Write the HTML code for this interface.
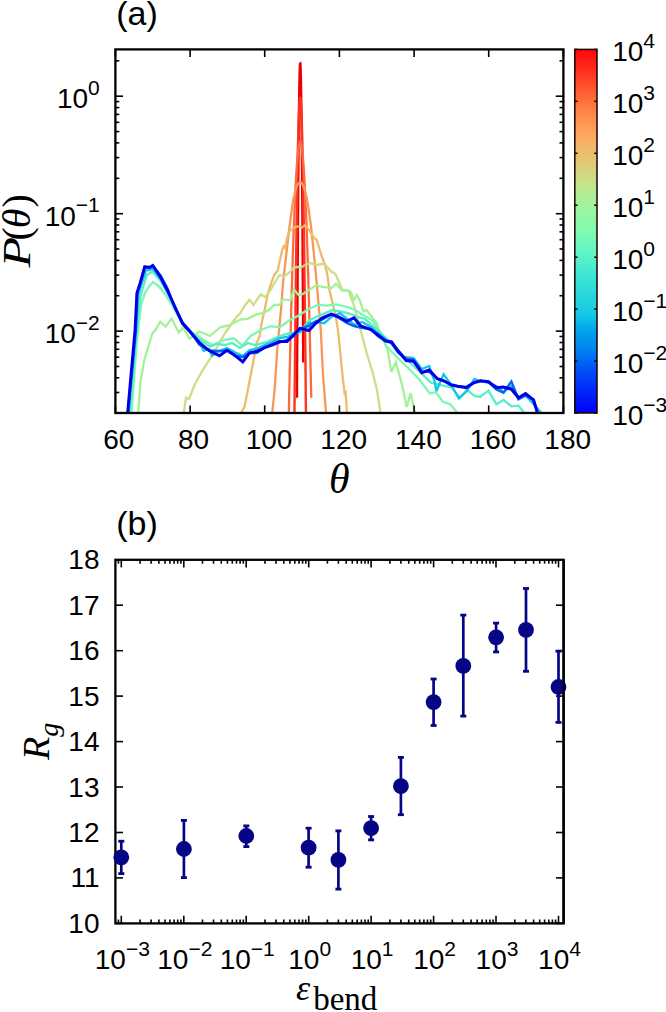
<!DOCTYPE html>
<html><head><meta charset="utf-8"><title>figure</title>
<style>html,body{margin:0;padding:0;background:#fff;overflow:hidden}svg{display:block}</style>
</head><body>
<svg width="666" height="1012" viewBox="0 0 666 1012">
<defs><clipPath id="ca"><rect x="115.4" y="49.4" width="448.0" height="363.6"/></clipPath>
<linearGradient id="cbg" x1="0" y1="1" x2="0" y2="0">
<stop offset="0.000" stop-color="rgb(0,0,245)"/>
<stop offset="0.063" stop-color="rgb(0,40,250)"/>
<stop offset="0.118" stop-color="rgb(0,80,245)"/>
<stop offset="0.173" stop-color="rgb(0,130,240)"/>
<stop offset="0.228" stop-color="rgb(0,165,235)"/>
<stop offset="0.269" stop-color="rgb(20,200,230)"/>
<stop offset="0.324" stop-color="rgb(40,215,220)"/>
<stop offset="0.379" stop-color="rgb(60,230,210)"/>
<stop offset="0.434" stop-color="rgb(90,245,200)"/>
<stop offset="0.503" stop-color="rgb(130,250,175)"/>
<stop offset="0.571" stop-color="rgb(160,245,155)"/>
<stop offset="0.626" stop-color="rgb(195,230,140)"/>
<stop offset="0.681" stop-color="rgb(220,205,120)"/>
<stop offset="0.750" stop-color="rgb(250,175,100)"/>
<stop offset="0.791" stop-color="rgb(255,155,85)"/>
<stop offset="0.832" stop-color="rgb(255,130,70)"/>
<stop offset="0.887" stop-color="rgb(255,90,50)"/>
<stop offset="0.942" stop-color="rgb(255,45,30)"/>
<stop offset="1.000" stop-color="rgb(255,8,8)"/>
</linearGradient></defs>
<rect width="666" height="1012" fill="#fff"/>
<g clip-path="url(#ca)" fill="none" stroke-linejoin="miter" stroke-miterlimit="3">
<polyline points="297.0,397.8 297.0,393.0 297.0,388.3 297.0,383.6 297.1,378.9 297.1,374.3 297.1,369.7 297.1,365.1 297.2,360.6 297.2,356.1 297.2,351.7 297.2,347.2 297.3,342.8 297.3,338.5 297.3,334.2 297.3,329.9 297.3,325.6 297.4,321.4 297.4,317.2 297.4,313.1 297.4,308.9 297.5,304.9 297.5,300.8 297.5,296.8 297.5,292.8 297.6,288.9 297.6,285.0 297.6,281.1 297.6,277.2 297.6,273.4 297.7,269.6 297.7,265.9 297.7,262.2 297.7,258.5 297.8,254.9 297.8,251.3 297.8,247.7 297.8,244.2 297.9,240.7 297.9,237.2 297.9,233.8 297.9,230.4 297.9,227.0 298.0,223.7 298.0,220.4 298.0,217.1 298.0,213.9 298.1,210.7 298.1,207.5 298.1,204.4 298.1,201.3 298.2,198.2 298.2,195.2 298.2,192.2 298.2,189.3 298.2,186.4 298.3,183.5 298.3,180.6 298.3,177.8 298.3,175.0 298.4,172.3 298.4,169.5 298.4,166.9 298.4,164.2 298.4,161.6 298.5,159.0 298.5,156.5 298.5,154.0 298.5,151.5 298.6,149.0 298.6,146.6 298.6,144.2 298.6,141.9 298.7,139.6 298.7,137.3 298.7,135.1 298.7,132.9 298.7,130.7 298.8,128.6 298.8,126.5 298.8,124.4 298.8,122.4 298.9,120.4 298.9,118.4 298.9,116.5 298.9,114.6 299.0,112.7 299.0,110.9 299.0,109.1 299.0,107.3 299.0,105.6 299.1,103.9 299.1,102.3 299.1,100.6 299.1,99.1 299.2,97.5 299.2,96.0 299.2,94.5 299.2,93.0 299.3,91.6 299.3,90.2 299.3,88.9 299.3,87.6 299.3,86.3 299.4,85.0 299.4,83.8 299.4,82.7 299.4,81.5 299.5,80.4 299.5,79.3 299.5,78.3 299.5,77.3 299.6,76.3 299.6,75.4 299.6,74.5 299.6,73.6 299.6,72.7 299.7,71.9 299.7,71.2 299.7,70.4 299.7,69.7 299.8,69.1 299.8,68.4 299.8,67.8 299.8,67.3 299.9,66.7 299.9,66.2 299.9,65.8 299.9,65.4 299.9,65.0 300.0,64.6 300.0,64.3 300.0,64.0 300.0,63.7 300.1,63.5 300.1,63.3 300.1,63.2 300.1,63.1 300.2,63.0 300.2,62.9 300.2,62.9 300.2,62.9 300.2,63.0 300.3,63.0 300.3,63.1 300.3,63.3 300.3,63.5 300.4,63.6 300.4,63.9 300.4,64.1 300.4,64.4 300.4,64.7 300.5,65.1 300.5,65.5 300.5,65.9 300.5,66.3 300.5,66.8 300.6,67.3 300.6,67.9 300.6,68.4 300.6,69.0 300.7,69.6 300.7,70.3 300.7,71.0 300.7,71.7 300.7,72.5 300.8,73.2 300.8,74.0 300.8,74.9 300.8,75.8 300.9,76.7 300.9,77.6 300.9,78.6 300.9,79.5 300.9,80.6 301.0,81.6 301.0,82.7 301.0,83.8 301.0,85.0 301.0,86.1 301.1,87.4 301.1,88.6 301.1,89.9 301.1,91.2 301.2,92.5 301.2,93.9 301.2,95.2 301.2,96.7 301.2,98.1 301.3,99.6 301.3,101.1 301.3,102.7 301.3,104.2 301.4,105.8 301.4,107.5 301.4,109.1 301.4,110.8 301.4,112.6 301.5,114.3 301.5,116.1 301.5,117.9 301.5,119.8 301.6,121.7 301.6,123.6 301.6,125.5 301.6,127.5 301.6,129.5 301.7,131.5 301.7,133.6 301.7,135.7 301.7,137.8 301.7,140.0 301.8,142.1 301.8,144.4 301.8,146.6 301.8,148.9 301.9,151.2 301.9,153.5 301.9,155.9 301.9,158.3 301.9,160.7 302.0,163.2 302.0,165.7 302.0,168.2 302.0,170.8 302.1,173.3 302.1,176.0 302.1,178.6 302.1,181.3 302.1,184.0 302.2,186.7 302.2,189.5 302.2,192.3 302.2,195.1 302.2,198.0 302.3,200.9 302.3,203.8 302.3,206.7 302.3,209.7 302.4,212.7 302.4,215.8 302.4,218.8 302.4,221.9 302.4,225.1 302.5,228.2 302.5,231.4 302.5,234.7 302.5,237.9 302.6,241.2 302.6,244.5 302.6,247.9 302.6,251.2 302.6,254.6 302.7,258.1 302.7,261.6 302.7,265.1 302.7,268.6 302.7,272.1 302.8,275.7 302.8,279.4 302.8,283.0 302.8,286.7 302.9,290.4 302.9,294.2 302.9,297.9 302.9,301.7 302.9,305.6 303.0,309.4 303.0,313.3 303.0,317.3 303.0,321.2 303.1,325.2 303.1,329.2 303.1,333.3 303.1,337.4 303.1,341.5 303.2,345.6 303.2,349.8 303.2,354.0 303.2,358.2 303.2,362.5" stroke="rgb(238,0,0)" stroke-width="2.4"/>
<polyline points="294.3,430.0 294.4,425.3 294.4,420.6 294.4,415.9 294.5,411.3 294.5,406.7 294.6,402.1 294.6,397.6 294.7,393.1 294.7,388.6 294.7,384.2 294.8,379.8 294.8,375.5 294.9,371.2 294.9,366.9 294.9,362.6 295.0,358.4 295.0,354.2 295.1,350.0 295.1,345.9 295.2,341.8 295.2,337.8 295.2,333.8 295.3,329.8 295.3,325.8 295.4,321.9 295.4,318.0 295.5,314.2 295.5,310.4 295.5,306.6 295.6,302.8 295.6,299.1 295.7,295.5 295.7,291.8 295.7,288.2 295.8,284.6 295.8,281.1 295.9,277.6 295.9,274.1 296.0,270.6 296.0,267.2 296.0,263.9 296.1,260.5 296.1,257.2 296.2,253.9 296.2,250.7 296.3,247.5 296.3,244.3 296.3,241.2 296.4,238.1 296.4,235.0 296.5,232.0 296.5,229.0 296.5,226.0 296.6,223.1 296.6,220.2 296.7,217.3 296.7,214.5 296.8,211.7 296.8,208.9 296.8,206.2 296.9,203.5 296.9,200.8 297.0,198.2 297.0,195.6 297.0,193.1 297.1,190.5 297.1,188.0 297.2,185.6 297.2,183.2 297.3,180.8 297.3,178.4 297.3,176.1 297.4,173.8 297.4,171.6 297.5,169.3 297.5,167.1 297.6,165.0 297.6,162.9 297.6,160.8 297.7,158.7 297.7,156.7 297.8,154.7 297.8,152.8 297.8,150.9 297.9,149.0 297.9,147.1 298.0,145.3 298.0,143.5 298.1,141.8 298.1,140.1 298.1,138.4 298.2,136.8 298.2,135.2 298.3,133.6 298.3,132.0 298.4,130.5 298.4,129.0 298.4,127.6 298.5,126.2 298.5,124.8 298.6,123.5 298.6,122.2 298.6,120.9 298.7,119.7 298.7,118.5 298.8,117.3 298.8,116.2 298.9,115.1 298.9,114.0 298.9,113.0 299.0,112.0 299.0,111.0 299.1,110.1 299.1,109.2 299.1,108.3 299.2,107.5 299.2,106.7 299.3,105.9 299.3,105.2 299.4,104.5 299.4,103.8 299.4,103.2 299.5,102.6 299.5,102.0 299.6,101.5 299.6,101.0 299.7,100.6 299.7,100.1 299.7,99.8 299.8,99.4 299.8,99.1 299.9,98.8 299.9,98.5 299.9,98.3 300.0,98.1 300.0,98.0 300.1,97.9 300.1,97.8 300.2,97.7 300.2,97.7 300.2,97.7 300.3,97.8 300.3,97.9 300.4,98.0 300.4,98.1 300.5,98.3 300.5,98.5 300.5,98.8 300.6,99.1 300.6,99.4 300.7,99.8 300.7,100.1 300.7,100.6 300.8,101.0 300.8,101.5 300.9,102.0 300.9,102.6 301.0,103.2 301.0,103.8 301.0,104.5 301.1,105.2 301.1,105.9 301.2,106.7 301.2,107.5 301.3,108.3 301.3,109.2 301.3,110.1 301.4,111.0 301.4,112.0 301.5,113.0 301.5,114.0 301.5,115.1 301.6,116.2 301.6,117.3 301.7,118.5 301.7,119.7 301.8,120.9 301.8,122.2 301.8,123.5 301.9,124.8 301.9,126.2 302.0,127.6 302.0,129.0 302.0,130.5 302.1,132.0 302.1,133.6 302.2,135.2 302.2,136.8 302.3,138.4 302.3,140.1 302.3,141.8 302.4,143.5 302.4,145.3 302.5,147.1 302.5,149.0 302.6,150.9 302.6,152.8 302.6,154.7 302.7,156.7 302.7,158.7 302.8,160.8 302.8,162.9 302.8,165.0 302.9,167.1 302.9,169.3 303.0,171.6 303.0,173.8 303.1,176.1 303.1,178.4 303.1,180.8 303.2,183.2 303.2,185.6 303.3,188.0 303.3,190.5 303.4,193.1 303.4,195.6 303.4,198.2 303.5,200.8 303.5,203.5 303.6,206.2 303.6,208.9 303.6,211.7 303.7,214.5 303.7,217.3 303.8,220.2 303.8,223.1 303.9,226.0 303.9,229.0 303.9,232.0 304.0,235.0 304.0,238.1 304.1,241.2 304.1,244.3 304.1,247.5 304.2,250.7 304.2,253.9 304.3,257.2 304.3,260.5 304.4,263.9 304.4,267.2 304.4,270.6 304.5,274.1 304.5,277.6 304.6,281.1 304.6,284.6 304.7,288.2 304.7,291.8 304.7,295.5 304.8,299.1 304.8,302.8 304.9,306.6 304.9,310.4 304.9,314.2 305.0,318.0 305.0,321.9 305.1,325.8 305.1,329.8 305.2,333.8 305.2,337.8 305.2,341.8 305.3,345.9 305.3,350.0 305.4,354.2 305.4,358.4 305.5,362.6 305.5,366.9 305.5,371.2 305.6,375.5 305.6,379.8 305.7,384.2 305.7,388.6 305.7,393.1 305.8,397.6 305.8,402.1 305.9,406.7 305.9,411.3 306.0,415.9 306.0,420.6 306.0,425.3 306.1,430.0" stroke="rgb(255,52,32)" stroke-width="2.4"/>
<polyline points="288.5,430.0 288.6,425.9 288.6,421.8 288.7,417.8 288.8,413.8 288.9,409.8 289.0,405.8 289.1,401.9 289.1,398.0 289.2,394.1 289.3,390.3 289.4,386.5 289.5,382.7 289.6,379.0 289.6,375.3 289.7,371.6 289.8,367.9 289.9,364.3 290.0,360.7 290.1,357.1 290.1,353.6 290.2,350.1 290.3,346.6 290.4,343.1 290.5,339.7 290.6,336.3 290.7,332.9 290.7,329.6 290.8,326.3 290.9,323.0 291.0,319.8 291.1,316.5 291.2,313.3 291.2,310.2 291.3,307.1 291.4,304.0 291.5,300.9 291.6,297.8 291.7,294.8 291.7,291.8 291.8,288.9 291.9,286.0 292.0,283.1 292.1,280.2 292.2,277.4 292.2,274.6 292.3,271.8 292.4,269.0 292.5,266.3 292.6,263.6 292.7,261.0 292.7,258.3 292.8,255.7 292.9,253.2 293.0,250.6 293.1,248.1 293.2,245.6 293.2,243.2 293.3,240.7 293.4,238.3 293.5,236.0 293.6,233.6 293.7,231.3 293.8,229.1 293.8,226.8 293.9,224.6 294.0,222.4 294.1,220.2 294.2,218.1 294.3,216.0 294.3,213.9 294.4,211.9 294.5,209.9 294.6,207.9 294.7,205.9 294.8,204.0 294.8,202.1 294.9,200.2 295.0,198.4 295.1,196.6 295.2,194.8 295.3,193.1 295.3,191.3 295.4,189.7 295.5,188.0 295.6,186.4 295.7,184.8 295.8,183.2 295.8,181.6 295.9,180.1 296.0,178.6 296.1,177.2 296.2,175.8 296.3,174.4 296.3,173.0 296.4,171.7 296.5,170.4 296.6,169.1 296.7,167.8 296.8,166.6 296.8,165.4 296.9,164.3 297.0,163.1 297.1,162.0 297.2,160.9 297.3,159.9 297.4,158.9 297.4,157.9 297.5,157.0 297.6,156.0 297.7,155.1 297.8,154.3 297.9,153.4 297.9,152.6 298.0,151.8 298.1,151.1 298.2,150.4 298.3,149.7 298.4,149.0 298.4,148.4 298.5,147.8 298.6,147.2 298.7,146.7 298.8,146.1 298.9,145.7 298.9,145.2 299.0,144.8 299.1,144.4 299.2,144.0 299.3,143.7 299.4,143.4 299.4,143.1 299.5,142.8 299.6,142.6 299.7,142.4 299.8,142.3 299.9,142.1 299.9,142.0 300.0,142.0 300.1,141.9 300.2,141.9 300.3,141.9 300.4,142.0 300.4,142.0 300.5,142.1 300.6,142.2 300.7,142.4 300.8,142.5 300.8,142.7 300.9,143.0 301.0,143.2 301.1,143.5 301.1,143.8 301.2,144.1 301.3,144.5 301.4,144.8 301.5,145.2 301.5,145.7 301.6,146.1 301.7,146.6 301.8,147.1 301.9,147.7 301.9,148.2 302.0,148.8 302.1,149.4 302.2,150.1 302.3,150.7 302.3,151.4 302.4,152.1 302.5,152.9 302.6,153.7 302.6,154.4 302.7,155.3 302.8,156.1 302.9,157.0 303.0,157.9 303.0,158.8 303.1,159.8 303.2,160.8 303.3,161.8 303.4,162.8 303.4,163.8 303.5,164.9 303.6,166.0 303.7,167.2 303.8,168.3 303.8,169.5 303.9,170.7 304.0,172.0 304.1,173.2 304.1,174.5 304.2,175.9 304.3,177.2 304.4,178.6 304.5,180.0 304.5,181.4 304.6,182.8 304.7,184.3 304.8,185.8 304.9,187.3 304.9,188.9 305.0,190.5 305.1,192.1 305.2,193.7 305.3,195.4 305.3,197.1 305.4,198.8 305.5,200.5 305.6,202.3 305.6,204.1 305.7,205.9 305.8,207.7 305.9,209.6 306.0,211.5 306.0,213.4 306.1,215.3 306.2,217.3 306.3,219.3 306.4,221.3 306.4,223.4 306.5,225.5 306.6,227.6 306.7,229.7 306.8,231.8 306.8,234.0 306.9,236.2 307.0,238.5 307.1,240.7 307.1,243.0 307.2,245.3 307.3,247.7 307.4,250.0 307.5,252.4 307.5,254.8 307.6,257.3 307.7,259.7 307.8,262.2 307.9,264.7 307.9,267.3 308.0,269.9 308.1,272.5 308.2,275.1 308.3,277.7 308.3,280.4 308.4,283.1 308.5,285.8 308.6,288.6 308.6,291.4 308.7,294.2 308.8,297.0 308.9,299.9 309.0,302.8 309.0,305.7 309.1,308.6 309.2,311.6 309.3,314.6 309.4,317.6 309.4,320.6 309.5,323.7 309.6,326.8 309.7,329.9 309.8,333.1 309.8,336.2 309.9,339.4 310.0,342.7 310.1,345.9 310.1,349.2 310.2,352.5 310.3,355.8 310.4,359.2 310.5,362.5 310.5,366.0 310.6,369.4 310.7,372.8 310.8,376.3 310.9,379.8 310.9,383.4 311.0,387.0 311.1,390.5 311.2,394.2 311.3,397.8" stroke="rgb(250,108,62)" stroke-width="2.3"/>
<polyline points="272.0,421.0 272.3,412.0 274.6,390.0 277.6,345.0 281.0,310.0 283.2,280.5 286.0,257.0 289.1,230.0 292.2,206.3 292.4,204.8 292.7,203.3 292.9,202.0 293.2,200.6 293.4,199.3 293.7,198.1 293.9,196.9 294.2,195.7 294.4,194.6 294.7,193.6 294.9,192.6 295.2,191.6 295.4,190.7 295.7,189.8 295.9,189.0 296.2,188.2 296.4,187.5 296.7,186.8 296.9,186.2 297.2,185.6 297.4,185.0 297.7,184.5 297.9,184.1 298.2,183.7 298.4,183.4 298.7,183.0 298.9,182.8 299.2,182.6 299.4,182.4 299.7,182.3 299.9,182.2 300.2,182.2 300.4,182.2 300.7,182.3 300.9,182.4 301.2,182.6 301.4,182.8 301.7,183.0 301.9,183.4 302.2,183.7 302.4,184.1 302.7,184.5 302.9,185.0 303.2,185.6 303.4,186.2 303.7,186.8 303.9,187.5 304.2,188.2 304.4,189.0 304.7,189.8 304.9,190.7 305.2,191.6 305.4,192.6 305.7,193.6 305.9,194.6 306.2,195.7 306.4,196.9 306.7,198.1 306.9,199.3 307.2,200.6 307.4,202.0 307.7,203.3 307.9,204.8 308.2,206.3 311.2,228.0 314.0,255.0 316.6,282.0 320.8,330.0 323.0,375.0 326.0,412.0 326.6,421.0" stroke="rgb(248,152,88)" stroke-width="2.3"/>
<polyline points="240.8,421.0 241.6,412.0 244.6,406.6 249.0,384.0 253.6,360.0 256.6,343.5 259.6,336.0 261.8,322.5 264.8,309.0 268.0,293.0 271.5,282.3 274.2,275.0 277.8,270.5 279.6,261.5 282.3,249.8 284.1,245.3 285.0,249.0 286.8,239.0 289.1,231.8 292.0,229.0 295.0,227.0 299.5,226.2 302.0,227.3 304.5,225.4 308.5,229.0 313.9,237.9 316.6,239.7 319.3,248.7 322.0,256.8 324.7,264.0 327.0,273.0 329.5,290.0 333.0,305.0 336.0,318.0 338.0,330.0 341.0,360.0 343.0,380.0 344.6,393.0 345.6,392.0 347.0,413.0 347.5,421.0" stroke="rgb(236,188,108)" stroke-width="2.3"/>
<polyline points="183.0,421.0 183.8,413.0 186.0,397.6 189.0,399.0 195.0,384.0 202.5,370.6 210.0,358.6 217.5,346.5 225.0,333.0 232.5,322.5 235.6,318.0 240.0,313.5 244.6,306.0 249.5,299.8 253.5,304.8 260.7,294.4 265.2,297.1 270.6,289.9 276.0,280.5 279.6,275.0 284.1,276.4 288.6,273.2 294.0,267.4 297.7,267.0 300.4,267.7 305.0,265.0 310.3,263.2 316.6,265.0 322.0,264.0 325.6,265.0 331.0,271.3 335.5,274.0 338.2,280.3 342.2,289.6 348.5,290.8 354.5,307.0 360.5,330.0 366.5,352.5 372.5,372.0 377.0,390.0 380.0,409.6 381.0,421.0" stroke="rgb(205,222,135)" stroke-width="2.3"/>
<polyline points="137.5,421.0 138.3,413.0 140.3,382.7 144.3,360.0 152.3,333.3 155.0,330.7 160.2,321.7 165.6,326.5 171.6,318.6 178.8,332.5 183.0,327.7 189.6,338.5 199.5,331.5 210.0,336.0 220.5,327.0 229.5,325.5 240.0,319.5 247.6,318.8 256.6,314.3 264.0,312.8 269.7,309.3 274.2,304.8 279.6,304.8 283.2,299.4 290.5,300.3 294.0,289.5 298.6,294.9 303.0,294.0 309.0,290.0 316.2,285.4 322.5,286.8 331.5,288.1 336.0,283.6 342.3,290.8 346.8,290.4 350.5,291.7 354.0,299.8 356.8,295.3 360.0,300.7 363.5,311.6 366.5,310.0 377.0,323.6 380.0,335.0 384.6,343.0 387.6,349.5 391.3,372.0 395.8,362.3 402.4,386.0 406.6,407.0 410.7,393.2 414.7,412.0 415.5,421.0" stroke="rgb(162,242,152)" stroke-width="2.3"/>
<polyline points="130.5,421.0 131.5,413.0 137.0,340.0 141.0,305.0 145.0,292.8 148.0,288.0 152.8,282.0 158.8,286.2 165.0,294.0 172.0,305.0 180.0,320.0 188.0,330.0 198.0,336.0 205.0,341.0 213.0,345.0 222.0,340.5 234.0,338.3 242.3,345.8 250.6,336.0 261.0,330.0 270.0,326.3 280.0,327.0 290.0,320.0 300.0,314.7 309.0,308.8 318.0,304.8 327.0,305.7 336.0,304.3 343.2,306.1 350.5,307.9 357.7,311.5 362.0,314.6 372.6,320.6 381.6,334.0 386.0,346.0 395.0,355.0 407.0,367.0 419.0,379.0 429.8,393.4 435.8,392.2 443.0,401.8 450.3,404.2 456.3,411.5 457.5,421.0" stroke="rgb(128,246,180)" stroke-width="2.3"/>
<polyline points="128.5,421.0 129.7,413.0 136.5,333.0 140.5,296.0 146.8,275.1 152.5,271.5 160.6,281.0 167.5,293.0 175.0,308.0 182.6,322.5 190.0,331.0 200.0,340.0 210.0,346.5 217.0,344.0 225.0,345.0 232.0,343.0 240.0,348.0 248.0,343.0 255.0,345.0 267.0,342.0 273.0,339.0 280.0,336.0 290.0,333.0 300.0,332.3 309.0,320.5 318.0,316.0 327.0,312.4 332.4,310.2 340.5,311.5 348.6,313.3 357.7,316.9 365.0,319.0 375.6,328.0 384.6,337.0 395.0,347.0 407.0,360.0 419.0,371.0 431.0,382.6 443.0,385.6 451.5,387.4 460.0,398.2 467.0,389.8 474.3,395.8 480.0,397.0 488.5,390.6 496.4,404.2 503.5,400.0 511.4,406.3 518.5,405.6 524.2,413.0 525.0,421.0" stroke="rgb(88,238,200)" stroke-width="2.3"/>
<polyline points="127.5,421.0 128.7,413.0 136.2,330.0 138.5,294.0 141.5,284.0 146.0,270.5 150.0,270.0 152.8,268.5 160.6,279.0 167.5,292.0 175.0,307.5 182.6,323.0 190.0,331.0 199.0,341.0 203.6,350.9 209.0,349.0 212.0,355.7 219.5,351.0 227.0,348.0 234.5,352.0 242.8,356.0 249.5,350.0 257.0,348.5 264.6,345.0 272.0,342.0 279.6,338.0 287.0,337.0 293.0,334.0 300.0,332.0 309.0,323.2 318.0,322.3 324.3,323.2 331.5,317.0 340.0,313.0 346.0,318.0 354.5,325.0 362.0,322.0 371.0,327.0 378.0,333.0 385.6,339.0 392.0,343.0 398.1,350.0 404.0,357.0 413.6,358.0 421.8,369.0 429.2,366.0 434.6,381.4 436.4,391.0 443.6,374.2 450.8,384.0 458.7,398.2 467.0,391.0 474.3,379.0 480.0,381.0 488.5,383.0 496.4,386.0 503.5,392.0 511.4,386.0 518.5,398.0 526.0,396.0 533.5,404.0 541.3,413.0 542.0,421.0" stroke="rgb(20,196,228)" stroke-width="2.3"/>
<polyline points="126.5,421.0 127.7,413.0 135.8,330.7 137.0,292.3 140.3,282.9 144.7,266.5 149.8,267.7 152.8,266.0 160.6,275.5 167.5,288.6 175.0,308.3 182.6,322.6 190.0,330.7 199.0,344.3 209.0,350.5 219.5,351.0 227.0,350.2 234.5,355.6 242.8,357.0 249.5,353.3 257.0,352.8 264.6,347.7 272.0,345.6 279.6,342.3 287.0,339.9 293.0,336.5 300.0,328.7 309.0,326.0 316.0,321.1 322.5,319.3 331.5,314.1 339.0,317.9 346.8,322.9 354.0,326.0 360.5,327.5 371.0,329.2 378.0,336.2 385.6,340.8 391.6,343.5 398.1,352.6 406.2,358.9 413.6,359.7 421.8,371.6 429.2,371.9 437.3,378.5 444.0,381.3 450.8,384.1 457.6,386.2 466.4,387.1 473.8,382.2 480.7,381.0 488.5,382.0 496.4,389.4 503.5,392.8 511.4,381.4 518.5,399.2 525.6,395.5 533.5,399.9 537.0,411.3 537.6,421.0" stroke="rgb(0,105,240)" stroke-width="2.4"/>
<polyline points="126.5,421.0 127.7,413.0 135.0,330.7 137.0,293.3 140.3,282.7 144.7,267.0 149.8,267.3 152.8,265.5 160.6,277.2 167.5,290.5 175.0,307.0 182.6,323.6 190.0,331.8 199.0,342.3 209.0,350.6 219.5,355.8 227.0,350.3 234.5,355.0 242.8,361.8 249.5,352.8 257.0,351.3 264.6,347.6 272.0,344.6 279.6,341.6 287.0,341.6 293.0,335.5 300.0,328.3 309.0,330.5 316.0,323.0 322.5,317.8 331.5,314.2 339.0,317.0 346.8,321.4 354.0,317.8 360.5,325.8 371.0,329.6 378.0,335.0 385.6,341.0 391.6,341.8 398.1,351.1 406.2,360.5 413.6,361.2 421.8,372.7 429.2,370.0 437.3,378.8 444.0,380.8 450.8,384.9 457.6,386.2 466.4,387.6 473.8,382.8 480.7,380.7 488.5,381.7 496.4,387.8 503.5,387.1 511.4,389.2 518.5,397.8 525.6,393.5 533.5,399.9 537.0,411.3 537.6,421.0" stroke="rgb(0,0,232)" stroke-width="3.0"/>
</g>
<line x1="115.4" y1="413.0" x2="115.4" y2="405.4" stroke="#000" stroke-width="1.6"/>
<line x1="115.4" y1="49.4" x2="115.4" y2="57.0" stroke="#000" stroke-width="1.6"/>
<line x1="190.1" y1="413.0" x2="190.1" y2="405.4" stroke="#000" stroke-width="1.6"/>
<line x1="190.1" y1="49.4" x2="190.1" y2="57.0" stroke="#000" stroke-width="1.6"/>
<line x1="264.7" y1="413.0" x2="264.7" y2="405.4" stroke="#000" stroke-width="1.6"/>
<line x1="264.7" y1="49.4" x2="264.7" y2="57.0" stroke="#000" stroke-width="1.6"/>
<line x1="339.4" y1="413.0" x2="339.4" y2="405.4" stroke="#000" stroke-width="1.6"/>
<line x1="339.4" y1="49.4" x2="339.4" y2="57.0" stroke="#000" stroke-width="1.6"/>
<line x1="414.1" y1="413.0" x2="414.1" y2="405.4" stroke="#000" stroke-width="1.6"/>
<line x1="414.1" y1="49.4" x2="414.1" y2="57.0" stroke="#000" stroke-width="1.6"/>
<line x1="488.7" y1="413.0" x2="488.7" y2="405.4" stroke="#000" stroke-width="1.6"/>
<line x1="488.7" y1="49.4" x2="488.7" y2="57.0" stroke="#000" stroke-width="1.6"/>
<line x1="563.4" y1="413.0" x2="563.4" y2="405.4" stroke="#000" stroke-width="1.6"/>
<line x1="563.4" y1="49.4" x2="563.4" y2="57.0" stroke="#000" stroke-width="1.6"/>
<line x1="115.4" y1="413.2" x2="119.3" y2="413.2" stroke="#000" stroke-width="1.6"/>
<line x1="563.4" y1="413.2" x2="559.5" y2="413.2" stroke="#000" stroke-width="1.6"/>
<line x1="115.4" y1="392.5" x2="119.3" y2="392.5" stroke="#000" stroke-width="1.6"/>
<line x1="563.4" y1="392.5" x2="559.5" y2="392.5" stroke="#000" stroke-width="1.6"/>
<line x1="115.4" y1="377.8" x2="119.3" y2="377.8" stroke="#000" stroke-width="1.6"/>
<line x1="563.4" y1="377.8" x2="559.5" y2="377.8" stroke="#000" stroke-width="1.6"/>
<line x1="115.4" y1="366.5" x2="119.3" y2="366.5" stroke="#000" stroke-width="1.6"/>
<line x1="563.4" y1="366.5" x2="559.5" y2="366.5" stroke="#000" stroke-width="1.6"/>
<line x1="115.4" y1="357.2" x2="119.3" y2="357.2" stroke="#000" stroke-width="1.6"/>
<line x1="563.4" y1="357.2" x2="559.5" y2="357.2" stroke="#000" stroke-width="1.6"/>
<line x1="115.4" y1="349.3" x2="119.3" y2="349.3" stroke="#000" stroke-width="1.6"/>
<line x1="563.4" y1="349.3" x2="559.5" y2="349.3" stroke="#000" stroke-width="1.6"/>
<line x1="115.4" y1="342.5" x2="119.3" y2="342.5" stroke="#000" stroke-width="1.6"/>
<line x1="563.4" y1="342.5" x2="559.5" y2="342.5" stroke="#000" stroke-width="1.6"/>
<line x1="115.4" y1="336.5" x2="119.3" y2="336.5" stroke="#000" stroke-width="1.6"/>
<line x1="563.4" y1="336.5" x2="559.5" y2="336.5" stroke="#000" stroke-width="1.6"/>
<line x1="115.4" y1="331.1" x2="123.0" y2="331.1" stroke="#000" stroke-width="1.6"/>
<line x1="563.4" y1="331.1" x2="555.8" y2="331.1" stroke="#000" stroke-width="1.6"/>
<line x1="115.4" y1="295.7" x2="119.3" y2="295.7" stroke="#000" stroke-width="1.6"/>
<line x1="563.4" y1="295.7" x2="559.5" y2="295.7" stroke="#000" stroke-width="1.6"/>
<line x1="115.4" y1="275.1" x2="119.3" y2="275.1" stroke="#000" stroke-width="1.6"/>
<line x1="563.4" y1="275.1" x2="559.5" y2="275.1" stroke="#000" stroke-width="1.6"/>
<line x1="115.4" y1="260.4" x2="119.3" y2="260.4" stroke="#000" stroke-width="1.6"/>
<line x1="563.4" y1="260.4" x2="559.5" y2="260.4" stroke="#000" stroke-width="1.6"/>
<line x1="115.4" y1="249.0" x2="119.3" y2="249.0" stroke="#000" stroke-width="1.6"/>
<line x1="563.4" y1="249.0" x2="559.5" y2="249.0" stroke="#000" stroke-width="1.6"/>
<line x1="115.4" y1="239.7" x2="119.3" y2="239.7" stroke="#000" stroke-width="1.6"/>
<line x1="563.4" y1="239.7" x2="559.5" y2="239.7" stroke="#000" stroke-width="1.6"/>
<line x1="115.4" y1="231.8" x2="119.3" y2="231.8" stroke="#000" stroke-width="1.6"/>
<line x1="563.4" y1="231.8" x2="559.5" y2="231.8" stroke="#000" stroke-width="1.6"/>
<line x1="115.4" y1="225.0" x2="119.3" y2="225.0" stroke="#000" stroke-width="1.6"/>
<line x1="563.4" y1="225.0" x2="559.5" y2="225.0" stroke="#000" stroke-width="1.6"/>
<line x1="115.4" y1="219.0" x2="119.3" y2="219.0" stroke="#000" stroke-width="1.6"/>
<line x1="563.4" y1="219.0" x2="559.5" y2="219.0" stroke="#000" stroke-width="1.6"/>
<line x1="115.4" y1="213.7" x2="123.0" y2="213.7" stroke="#000" stroke-width="1.6"/>
<line x1="563.4" y1="213.7" x2="555.8" y2="213.7" stroke="#000" stroke-width="1.6"/>
<line x1="115.4" y1="178.3" x2="119.3" y2="178.3" stroke="#000" stroke-width="1.6"/>
<line x1="563.4" y1="178.3" x2="559.5" y2="178.3" stroke="#000" stroke-width="1.6"/>
<line x1="115.4" y1="157.6" x2="119.3" y2="157.6" stroke="#000" stroke-width="1.6"/>
<line x1="563.4" y1="157.6" x2="559.5" y2="157.6" stroke="#000" stroke-width="1.6"/>
<line x1="115.4" y1="142.9" x2="119.3" y2="142.9" stroke="#000" stroke-width="1.6"/>
<line x1="563.4" y1="142.9" x2="559.5" y2="142.9" stroke="#000" stroke-width="1.6"/>
<line x1="115.4" y1="131.6" x2="119.3" y2="131.6" stroke="#000" stroke-width="1.6"/>
<line x1="563.4" y1="131.6" x2="559.5" y2="131.6" stroke="#000" stroke-width="1.6"/>
<line x1="115.4" y1="122.3" x2="119.3" y2="122.3" stroke="#000" stroke-width="1.6"/>
<line x1="563.4" y1="122.3" x2="559.5" y2="122.3" stroke="#000" stroke-width="1.6"/>
<line x1="115.4" y1="114.4" x2="119.3" y2="114.4" stroke="#000" stroke-width="1.6"/>
<line x1="563.4" y1="114.4" x2="559.5" y2="114.4" stroke="#000" stroke-width="1.6"/>
<line x1="115.4" y1="107.6" x2="119.3" y2="107.6" stroke="#000" stroke-width="1.6"/>
<line x1="563.4" y1="107.6" x2="559.5" y2="107.6" stroke="#000" stroke-width="1.6"/>
<line x1="115.4" y1="101.6" x2="119.3" y2="101.6" stroke="#000" stroke-width="1.6"/>
<line x1="563.4" y1="101.6" x2="559.5" y2="101.6" stroke="#000" stroke-width="1.6"/>
<line x1="115.4" y1="96.2" x2="123.0" y2="96.2" stroke="#000" stroke-width="1.6"/>
<line x1="563.4" y1="96.2" x2="555.8" y2="96.2" stroke="#000" stroke-width="1.6"/>
<line x1="115.4" y1="60.8" x2="119.3" y2="60.8" stroke="#000" stroke-width="1.6"/>
<line x1="563.4" y1="60.8" x2="559.5" y2="60.8" stroke="#000" stroke-width="1.6"/>
<rect x="115.4" y="49.4" width="448.0" height="363.6" fill="none" stroke="#000" stroke-width="2.3"/>
<rect x="574.8" y="49.4" width="22.2" height="363.6" fill="url(#cbg)" stroke="#1a0000" stroke-width="1.5"/>
<line x1="574.8" y1="413.0" x2="577.6" y2="413.0" stroke="#200" stroke-width="1.5"/>
<line x1="597.0" y1="413.0" x2="594.2" y2="413.0" stroke="#200" stroke-width="1.5"/>
<text x="612.2" y="424.9" font-family="Liberation Sans" font-size="28" text-anchor="start">10<tspan font-size="21" dy="-13.4">−3</tspan></text>
<line x1="574.8" y1="361.1" x2="577.6" y2="361.1" stroke="#200" stroke-width="1.5"/>
<line x1="597.0" y1="361.1" x2="594.2" y2="361.1" stroke="#200" stroke-width="1.5"/>
<text x="612.2" y="373.0" font-family="Liberation Sans" font-size="28" text-anchor="start">10<tspan font-size="21" dy="-13.4">−2</tspan></text>
<line x1="574.8" y1="309.1" x2="577.6" y2="309.1" stroke="#200" stroke-width="1.5"/>
<line x1="597.0" y1="309.1" x2="594.2" y2="309.1" stroke="#200" stroke-width="1.5"/>
<text x="612.2" y="321.0" font-family="Liberation Sans" font-size="28" text-anchor="start">10<tspan font-size="21" dy="-13.4">−1</tspan></text>
<line x1="574.8" y1="257.2" x2="577.6" y2="257.2" stroke="#200" stroke-width="1.5"/>
<line x1="597.0" y1="257.2" x2="594.2" y2="257.2" stroke="#200" stroke-width="1.5"/>
<text x="612.2" y="269.1" font-family="Liberation Sans" font-size="28" text-anchor="start">10<tspan font-size="21" dy="-13.4">0</tspan></text>
<line x1="574.8" y1="205.2" x2="577.6" y2="205.2" stroke="#200" stroke-width="1.5"/>
<line x1="597.0" y1="205.2" x2="594.2" y2="205.2" stroke="#200" stroke-width="1.5"/>
<text x="612.2" y="217.1" font-family="Liberation Sans" font-size="28" text-anchor="start">10<tspan font-size="21" dy="-13.4">1</tspan></text>
<line x1="574.8" y1="153.3" x2="577.6" y2="153.3" stroke="#200" stroke-width="1.5"/>
<line x1="597.0" y1="153.3" x2="594.2" y2="153.3" stroke="#200" stroke-width="1.5"/>
<text x="612.2" y="165.2" font-family="Liberation Sans" font-size="28" text-anchor="start">10<tspan font-size="21" dy="-13.4">2</tspan></text>
<line x1="574.8" y1="101.3" x2="577.6" y2="101.3" stroke="#200" stroke-width="1.5"/>
<line x1="597.0" y1="101.3" x2="594.2" y2="101.3" stroke="#200" stroke-width="1.5"/>
<text x="612.2" y="113.2" font-family="Liberation Sans" font-size="28" text-anchor="start">10<tspan font-size="21" dy="-13.4">3</tspan></text>
<line x1="574.8" y1="49.4" x2="577.6" y2="49.4" stroke="#200" stroke-width="1.5"/>
<line x1="597.0" y1="49.4" x2="594.2" y2="49.4" stroke="#200" stroke-width="1.5"/>
<text x="612.2" y="61.3" font-family="Liberation Sans" font-size="28" text-anchor="start">10<tspan font-size="21" dy="-13.4">4</tspan></text>
<text x="118.8" y="449.3" font-family="Liberation Sans" font-size="28" font-style="normal" text-anchor="middle" >60</text>
<text x="193.5" y="449.3" font-family="Liberation Sans" font-size="28" font-style="normal" text-anchor="middle" >80</text>
<text x="269.0" y="449.3" font-family="Liberation Sans" font-size="28" font-style="normal" text-anchor="middle" >100</text>
<text x="343.7" y="449.3" font-family="Liberation Sans" font-size="28" font-style="normal" text-anchor="middle" >120</text>
<text x="418.4" y="449.3" font-family="Liberation Sans" font-size="28" font-style="normal" text-anchor="middle" >140</text>
<text x="493.0" y="449.3" font-family="Liberation Sans" font-size="28" font-style="normal" text-anchor="middle" >160</text>
<text x="567.7" y="449.3" font-family="Liberation Sans" font-size="28" font-style="normal" text-anchor="middle" >180</text>
<text x="99.8" y="108.1" font-family="Liberation Sans" font-size="28" text-anchor="end">10<tspan font-size="21" dy="-13.4">0</tspan></text>
<text x="99.8" y="225.6" font-family="Liberation Sans" font-size="28" text-anchor="end">10<tspan font-size="21" dy="-13.4">−1</tspan></text>
<text x="99.8" y="343.0" font-family="Liberation Sans" font-size="28" text-anchor="end">10<tspan font-size="21" dy="-13.4">−2</tspan></text>
<text x="116.3" y="24.8" font-family="Liberation Sans" font-size="34" font-style="normal" text-anchor="start" >(a)</text>
<text transform="translate(29.5,267.6) rotate(-90) scale(1.25,1)" font-family="Liberation Serif" font-size="40" font-style="italic">P</text>
<text transform="translate(29.5,240.5) rotate(-90)" font-family="Liberation Serif" font-size="40"><tspan>(</tspan><tspan font-style="italic" dx="-1">θ</tspan><tspan dx="1">)</tspan></text>
<text x="329" y="493" font-family="Liberation Serif" font-size="42" font-style="italic">θ</text>
<line x1="121.3" y1="923.4" x2="121.3" y2="915.8" stroke="#000" stroke-width="1.6"/>
<line x1="121.3" y1="559.8" x2="121.3" y2="567.4" stroke="#000" stroke-width="1.6"/>
<line x1="140.1" y1="923.4" x2="140.1" y2="919.5" stroke="#000" stroke-width="1.6"/>
<line x1="140.1" y1="559.8" x2="140.1" y2="563.7" stroke="#000" stroke-width="1.6"/>
<line x1="151.1" y1="923.4" x2="151.1" y2="919.5" stroke="#000" stroke-width="1.6"/>
<line x1="151.1" y1="559.8" x2="151.1" y2="563.7" stroke="#000" stroke-width="1.6"/>
<line x1="158.9" y1="923.4" x2="158.9" y2="919.5" stroke="#000" stroke-width="1.6"/>
<line x1="158.9" y1="559.8" x2="158.9" y2="563.7" stroke="#000" stroke-width="1.6"/>
<line x1="165.0" y1="923.4" x2="165.0" y2="919.5" stroke="#000" stroke-width="1.6"/>
<line x1="165.0" y1="559.8" x2="165.0" y2="563.7" stroke="#000" stroke-width="1.6"/>
<line x1="169.9" y1="923.4" x2="169.9" y2="919.5" stroke="#000" stroke-width="1.6"/>
<line x1="169.9" y1="559.8" x2="169.9" y2="563.7" stroke="#000" stroke-width="1.6"/>
<line x1="174.1" y1="923.4" x2="174.1" y2="919.5" stroke="#000" stroke-width="1.6"/>
<line x1="174.1" y1="559.8" x2="174.1" y2="563.7" stroke="#000" stroke-width="1.6"/>
<line x1="177.7" y1="923.4" x2="177.7" y2="919.5" stroke="#000" stroke-width="1.6"/>
<line x1="177.7" y1="559.8" x2="177.7" y2="563.7" stroke="#000" stroke-width="1.6"/>
<line x1="180.9" y1="923.4" x2="180.9" y2="919.5" stroke="#000" stroke-width="1.6"/>
<line x1="180.9" y1="559.8" x2="180.9" y2="563.7" stroke="#000" stroke-width="1.6"/>
<line x1="183.8" y1="923.4" x2="183.8" y2="915.8" stroke="#000" stroke-width="1.6"/>
<line x1="183.8" y1="559.8" x2="183.8" y2="567.4" stroke="#000" stroke-width="1.6"/>
<line x1="202.5" y1="923.4" x2="202.5" y2="919.5" stroke="#000" stroke-width="1.6"/>
<line x1="202.5" y1="559.8" x2="202.5" y2="563.7" stroke="#000" stroke-width="1.6"/>
<line x1="213.5" y1="923.4" x2="213.5" y2="919.5" stroke="#000" stroke-width="1.6"/>
<line x1="213.5" y1="559.8" x2="213.5" y2="563.7" stroke="#000" stroke-width="1.6"/>
<line x1="221.3" y1="923.4" x2="221.3" y2="919.5" stroke="#000" stroke-width="1.6"/>
<line x1="221.3" y1="559.8" x2="221.3" y2="563.7" stroke="#000" stroke-width="1.6"/>
<line x1="227.4" y1="923.4" x2="227.4" y2="919.5" stroke="#000" stroke-width="1.6"/>
<line x1="227.4" y1="559.8" x2="227.4" y2="563.7" stroke="#000" stroke-width="1.6"/>
<line x1="232.3" y1="923.4" x2="232.3" y2="919.5" stroke="#000" stroke-width="1.6"/>
<line x1="232.3" y1="559.8" x2="232.3" y2="563.7" stroke="#000" stroke-width="1.6"/>
<line x1="236.5" y1="923.4" x2="236.5" y2="919.5" stroke="#000" stroke-width="1.6"/>
<line x1="236.5" y1="559.8" x2="236.5" y2="563.7" stroke="#000" stroke-width="1.6"/>
<line x1="240.1" y1="923.4" x2="240.1" y2="919.5" stroke="#000" stroke-width="1.6"/>
<line x1="240.1" y1="559.8" x2="240.1" y2="563.7" stroke="#000" stroke-width="1.6"/>
<line x1="243.3" y1="923.4" x2="243.3" y2="919.5" stroke="#000" stroke-width="1.6"/>
<line x1="243.3" y1="559.8" x2="243.3" y2="563.7" stroke="#000" stroke-width="1.6"/>
<line x1="246.2" y1="923.4" x2="246.2" y2="915.8" stroke="#000" stroke-width="1.6"/>
<line x1="246.2" y1="559.8" x2="246.2" y2="567.4" stroke="#000" stroke-width="1.6"/>
<line x1="265.0" y1="923.4" x2="265.0" y2="919.5" stroke="#000" stroke-width="1.6"/>
<line x1="265.0" y1="559.8" x2="265.0" y2="563.7" stroke="#000" stroke-width="1.6"/>
<line x1="276.0" y1="923.4" x2="276.0" y2="919.5" stroke="#000" stroke-width="1.6"/>
<line x1="276.0" y1="559.8" x2="276.0" y2="563.7" stroke="#000" stroke-width="1.6"/>
<line x1="283.8" y1="923.4" x2="283.8" y2="919.5" stroke="#000" stroke-width="1.6"/>
<line x1="283.8" y1="559.8" x2="283.8" y2="563.7" stroke="#000" stroke-width="1.6"/>
<line x1="289.9" y1="923.4" x2="289.9" y2="919.5" stroke="#000" stroke-width="1.6"/>
<line x1="289.9" y1="559.8" x2="289.9" y2="563.7" stroke="#000" stroke-width="1.6"/>
<line x1="294.8" y1="923.4" x2="294.8" y2="919.5" stroke="#000" stroke-width="1.6"/>
<line x1="294.8" y1="559.8" x2="294.8" y2="563.7" stroke="#000" stroke-width="1.6"/>
<line x1="299.0" y1="923.4" x2="299.0" y2="919.5" stroke="#000" stroke-width="1.6"/>
<line x1="299.0" y1="559.8" x2="299.0" y2="563.7" stroke="#000" stroke-width="1.6"/>
<line x1="302.6" y1="923.4" x2="302.6" y2="919.5" stroke="#000" stroke-width="1.6"/>
<line x1="302.6" y1="559.8" x2="302.6" y2="563.7" stroke="#000" stroke-width="1.6"/>
<line x1="305.8" y1="923.4" x2="305.8" y2="919.5" stroke="#000" stroke-width="1.6"/>
<line x1="305.8" y1="559.8" x2="305.8" y2="563.7" stroke="#000" stroke-width="1.6"/>
<line x1="308.7" y1="923.4" x2="308.7" y2="915.8" stroke="#000" stroke-width="1.6"/>
<line x1="308.7" y1="559.8" x2="308.7" y2="567.4" stroke="#000" stroke-width="1.6"/>
<line x1="327.4" y1="923.4" x2="327.4" y2="919.5" stroke="#000" stroke-width="1.6"/>
<line x1="327.4" y1="559.8" x2="327.4" y2="563.7" stroke="#000" stroke-width="1.6"/>
<line x1="338.4" y1="923.4" x2="338.4" y2="919.5" stroke="#000" stroke-width="1.6"/>
<line x1="338.4" y1="559.8" x2="338.4" y2="563.7" stroke="#000" stroke-width="1.6"/>
<line x1="346.2" y1="923.4" x2="346.2" y2="919.5" stroke="#000" stroke-width="1.6"/>
<line x1="346.2" y1="559.8" x2="346.2" y2="563.7" stroke="#000" stroke-width="1.6"/>
<line x1="352.3" y1="923.4" x2="352.3" y2="919.5" stroke="#000" stroke-width="1.6"/>
<line x1="352.3" y1="559.8" x2="352.3" y2="563.7" stroke="#000" stroke-width="1.6"/>
<line x1="357.2" y1="923.4" x2="357.2" y2="919.5" stroke="#000" stroke-width="1.6"/>
<line x1="357.2" y1="559.8" x2="357.2" y2="563.7" stroke="#000" stroke-width="1.6"/>
<line x1="361.4" y1="923.4" x2="361.4" y2="919.5" stroke="#000" stroke-width="1.6"/>
<line x1="361.4" y1="559.8" x2="361.4" y2="563.7" stroke="#000" stroke-width="1.6"/>
<line x1="365.0" y1="923.4" x2="365.0" y2="919.5" stroke="#000" stroke-width="1.6"/>
<line x1="365.0" y1="559.8" x2="365.0" y2="563.7" stroke="#000" stroke-width="1.6"/>
<line x1="368.2" y1="923.4" x2="368.2" y2="919.5" stroke="#000" stroke-width="1.6"/>
<line x1="368.2" y1="559.8" x2="368.2" y2="563.7" stroke="#000" stroke-width="1.6"/>
<line x1="371.1" y1="923.4" x2="371.1" y2="915.8" stroke="#000" stroke-width="1.6"/>
<line x1="371.1" y1="559.8" x2="371.1" y2="567.4" stroke="#000" stroke-width="1.6"/>
<line x1="389.9" y1="923.4" x2="389.9" y2="919.5" stroke="#000" stroke-width="1.6"/>
<line x1="389.9" y1="559.8" x2="389.9" y2="563.7" stroke="#000" stroke-width="1.6"/>
<line x1="400.9" y1="923.4" x2="400.9" y2="919.5" stroke="#000" stroke-width="1.6"/>
<line x1="400.9" y1="559.8" x2="400.9" y2="563.7" stroke="#000" stroke-width="1.6"/>
<line x1="408.7" y1="923.4" x2="408.7" y2="919.5" stroke="#000" stroke-width="1.6"/>
<line x1="408.7" y1="559.8" x2="408.7" y2="563.7" stroke="#000" stroke-width="1.6"/>
<line x1="414.8" y1="923.4" x2="414.8" y2="919.5" stroke="#000" stroke-width="1.6"/>
<line x1="414.8" y1="559.8" x2="414.8" y2="563.7" stroke="#000" stroke-width="1.6"/>
<line x1="419.7" y1="923.4" x2="419.7" y2="919.5" stroke="#000" stroke-width="1.6"/>
<line x1="419.7" y1="559.8" x2="419.7" y2="563.7" stroke="#000" stroke-width="1.6"/>
<line x1="423.9" y1="923.4" x2="423.9" y2="919.5" stroke="#000" stroke-width="1.6"/>
<line x1="423.9" y1="559.8" x2="423.9" y2="563.7" stroke="#000" stroke-width="1.6"/>
<line x1="427.5" y1="923.4" x2="427.5" y2="919.5" stroke="#000" stroke-width="1.6"/>
<line x1="427.5" y1="559.8" x2="427.5" y2="563.7" stroke="#000" stroke-width="1.6"/>
<line x1="430.7" y1="923.4" x2="430.7" y2="919.5" stroke="#000" stroke-width="1.6"/>
<line x1="430.7" y1="559.8" x2="430.7" y2="563.7" stroke="#000" stroke-width="1.6"/>
<line x1="433.6" y1="923.4" x2="433.6" y2="915.8" stroke="#000" stroke-width="1.6"/>
<line x1="433.6" y1="559.8" x2="433.6" y2="567.4" stroke="#000" stroke-width="1.6"/>
<line x1="452.3" y1="923.4" x2="452.3" y2="919.5" stroke="#000" stroke-width="1.6"/>
<line x1="452.3" y1="559.8" x2="452.3" y2="563.7" stroke="#000" stroke-width="1.6"/>
<line x1="463.3" y1="923.4" x2="463.3" y2="919.5" stroke="#000" stroke-width="1.6"/>
<line x1="463.3" y1="559.8" x2="463.3" y2="563.7" stroke="#000" stroke-width="1.6"/>
<line x1="471.1" y1="923.4" x2="471.1" y2="919.5" stroke="#000" stroke-width="1.6"/>
<line x1="471.1" y1="559.8" x2="471.1" y2="563.7" stroke="#000" stroke-width="1.6"/>
<line x1="477.2" y1="923.4" x2="477.2" y2="919.5" stroke="#000" stroke-width="1.6"/>
<line x1="477.2" y1="559.8" x2="477.2" y2="563.7" stroke="#000" stroke-width="1.6"/>
<line x1="482.1" y1="923.4" x2="482.1" y2="919.5" stroke="#000" stroke-width="1.6"/>
<line x1="482.1" y1="559.8" x2="482.1" y2="563.7" stroke="#000" stroke-width="1.6"/>
<line x1="486.3" y1="923.4" x2="486.3" y2="919.5" stroke="#000" stroke-width="1.6"/>
<line x1="486.3" y1="559.8" x2="486.3" y2="563.7" stroke="#000" stroke-width="1.6"/>
<line x1="489.9" y1="923.4" x2="489.9" y2="919.5" stroke="#000" stroke-width="1.6"/>
<line x1="489.9" y1="559.8" x2="489.9" y2="563.7" stroke="#000" stroke-width="1.6"/>
<line x1="493.1" y1="923.4" x2="493.1" y2="919.5" stroke="#000" stroke-width="1.6"/>
<line x1="493.1" y1="559.8" x2="493.1" y2="563.7" stroke="#000" stroke-width="1.6"/>
<line x1="496.0" y1="923.4" x2="496.0" y2="915.8" stroke="#000" stroke-width="1.6"/>
<line x1="496.0" y1="559.8" x2="496.0" y2="567.4" stroke="#000" stroke-width="1.6"/>
<line x1="514.8" y1="923.4" x2="514.8" y2="919.5" stroke="#000" stroke-width="1.6"/>
<line x1="514.8" y1="559.8" x2="514.8" y2="563.7" stroke="#000" stroke-width="1.6"/>
<line x1="525.8" y1="923.4" x2="525.8" y2="919.5" stroke="#000" stroke-width="1.6"/>
<line x1="525.8" y1="559.8" x2="525.8" y2="563.7" stroke="#000" stroke-width="1.6"/>
<line x1="533.6" y1="923.4" x2="533.6" y2="919.5" stroke="#000" stroke-width="1.6"/>
<line x1="533.6" y1="559.8" x2="533.6" y2="563.7" stroke="#000" stroke-width="1.6"/>
<line x1="539.7" y1="923.4" x2="539.7" y2="919.5" stroke="#000" stroke-width="1.6"/>
<line x1="539.7" y1="559.8" x2="539.7" y2="563.7" stroke="#000" stroke-width="1.6"/>
<line x1="544.6" y1="923.4" x2="544.6" y2="919.5" stroke="#000" stroke-width="1.6"/>
<line x1="544.6" y1="559.8" x2="544.6" y2="563.7" stroke="#000" stroke-width="1.6"/>
<line x1="548.8" y1="923.4" x2="548.8" y2="919.5" stroke="#000" stroke-width="1.6"/>
<line x1="548.8" y1="559.8" x2="548.8" y2="563.7" stroke="#000" stroke-width="1.6"/>
<line x1="552.4" y1="923.4" x2="552.4" y2="919.5" stroke="#000" stroke-width="1.6"/>
<line x1="552.4" y1="559.8" x2="552.4" y2="563.7" stroke="#000" stroke-width="1.6"/>
<line x1="555.6" y1="923.4" x2="555.6" y2="919.5" stroke="#000" stroke-width="1.6"/>
<line x1="555.6" y1="559.8" x2="555.6" y2="563.7" stroke="#000" stroke-width="1.6"/>
<line x1="558.5" y1="923.4" x2="558.5" y2="915.8" stroke="#000" stroke-width="1.6"/>
<line x1="558.5" y1="559.8" x2="558.5" y2="567.4" stroke="#000" stroke-width="1.6"/>
<line x1="118.4" y1="923.4" x2="118.4" y2="919.5" stroke="#000" stroke-width="1.6"/>
<line x1="118.4" y1="559.8" x2="118.4" y2="563.7" stroke="#000" stroke-width="1.6"/>
<line x1="115.4" y1="923.4" x2="123.0" y2="923.4" stroke="#000" stroke-width="1.6"/>
<line x1="563.6" y1="923.4" x2="556.0" y2="923.4" stroke="#000" stroke-width="1.6"/>
<line x1="115.4" y1="877.9" x2="123.0" y2="877.9" stroke="#000" stroke-width="1.6"/>
<line x1="563.6" y1="877.9" x2="556.0" y2="877.9" stroke="#000" stroke-width="1.6"/>
<line x1="115.4" y1="832.5" x2="123.0" y2="832.5" stroke="#000" stroke-width="1.6"/>
<line x1="563.6" y1="832.5" x2="556.0" y2="832.5" stroke="#000" stroke-width="1.6"/>
<line x1="115.4" y1="787.0" x2="123.0" y2="787.0" stroke="#000" stroke-width="1.6"/>
<line x1="563.6" y1="787.0" x2="556.0" y2="787.0" stroke="#000" stroke-width="1.6"/>
<line x1="115.4" y1="741.6" x2="123.0" y2="741.6" stroke="#000" stroke-width="1.6"/>
<line x1="563.6" y1="741.6" x2="556.0" y2="741.6" stroke="#000" stroke-width="1.6"/>
<line x1="115.4" y1="696.1" x2="123.0" y2="696.1" stroke="#000" stroke-width="1.6"/>
<line x1="563.6" y1="696.1" x2="556.0" y2="696.1" stroke="#000" stroke-width="1.6"/>
<line x1="115.4" y1="650.7" x2="123.0" y2="650.7" stroke="#000" stroke-width="1.6"/>
<line x1="563.6" y1="650.7" x2="556.0" y2="650.7" stroke="#000" stroke-width="1.6"/>
<line x1="115.4" y1="605.2" x2="123.0" y2="605.2" stroke="#000" stroke-width="1.6"/>
<line x1="563.6" y1="605.2" x2="556.0" y2="605.2" stroke="#000" stroke-width="1.6"/>
<line x1="115.4" y1="559.8" x2="123.0" y2="559.8" stroke="#000" stroke-width="1.6"/>
<line x1="563.6" y1="559.8" x2="556.0" y2="559.8" stroke="#000" stroke-width="1.6"/>
<rect x="115.4" y="559.8" width="448.2" height="363.6" fill="none" stroke="#000" stroke-width="2.3"/>
<line x1="121.3" y1="841.2" x2="121.3" y2="873.6" stroke="#050586" stroke-width="2.7"/>
<line x1="118.3" y1="841.2" x2="124.3" y2="841.2" stroke="#050586" stroke-width="2.8"/>
<line x1="118.3" y1="873.6" x2="124.3" y2="873.6" stroke="#050586" stroke-width="2.8"/>
<circle cx="121.3" cy="857.3" r="7.9" fill="#050586"/>
<line x1="183.9" y1="820.4" x2="183.9" y2="877.6" stroke="#050586" stroke-width="2.7"/>
<line x1="180.9" y1="820.4" x2="186.9" y2="820.4" stroke="#050586" stroke-width="2.8"/>
<line x1="180.9" y1="877.6" x2="186.9" y2="877.6" stroke="#050586" stroke-width="2.8"/>
<circle cx="183.9" cy="849.0" r="7.9" fill="#050586"/>
<line x1="246.3" y1="825.9" x2="246.3" y2="846.6" stroke="#050586" stroke-width="2.7"/>
<line x1="243.3" y1="825.9" x2="249.3" y2="825.9" stroke="#050586" stroke-width="2.8"/>
<line x1="243.3" y1="846.6" x2="249.3" y2="846.6" stroke="#050586" stroke-width="2.8"/>
<circle cx="246.3" cy="836.0" r="7.9" fill="#050586"/>
<line x1="308.6" y1="828.2" x2="308.6" y2="867.2" stroke="#050586" stroke-width="2.7"/>
<line x1="305.6" y1="828.2" x2="311.6" y2="828.2" stroke="#050586" stroke-width="2.8"/>
<line x1="305.6" y1="867.2" x2="311.6" y2="867.2" stroke="#050586" stroke-width="2.8"/>
<circle cx="308.6" cy="847.7" r="7.9" fill="#050586"/>
<line x1="338.4" y1="830.9" x2="338.4" y2="889.1" stroke="#050586" stroke-width="2.7"/>
<line x1="335.4" y1="830.9" x2="341.4" y2="830.9" stroke="#050586" stroke-width="2.8"/>
<line x1="335.4" y1="889.1" x2="341.4" y2="889.1" stroke="#050586" stroke-width="2.8"/>
<circle cx="338.4" cy="859.8" r="7.9" fill="#050586"/>
<line x1="371.1" y1="816.5" x2="371.1" y2="839.9" stroke="#050586" stroke-width="2.7"/>
<line x1="368.1" y1="816.5" x2="374.1" y2="816.5" stroke="#050586" stroke-width="2.8"/>
<line x1="368.1" y1="839.9" x2="374.1" y2="839.9" stroke="#050586" stroke-width="2.8"/>
<circle cx="371.1" cy="828.2" r="7.9" fill="#050586"/>
<line x1="400.9" y1="757.4" x2="400.9" y2="814.7" stroke="#050586" stroke-width="2.7"/>
<line x1="397.9" y1="757.4" x2="403.9" y2="757.4" stroke="#050586" stroke-width="2.8"/>
<line x1="397.9" y1="814.7" x2="403.9" y2="814.7" stroke="#050586" stroke-width="2.8"/>
<circle cx="400.9" cy="786.2" r="7.9" fill="#050586"/>
<line x1="433.6" y1="679.0" x2="433.6" y2="725.5" stroke="#050586" stroke-width="2.7"/>
<line x1="430.6" y1="679.0" x2="436.6" y2="679.0" stroke="#050586" stroke-width="2.8"/>
<line x1="430.6" y1="725.5" x2="436.6" y2="725.5" stroke="#050586" stroke-width="2.8"/>
<circle cx="433.6" cy="702.1" r="7.9" fill="#050586"/>
<line x1="463.3" y1="615.1" x2="463.3" y2="716.1" stroke="#050586" stroke-width="2.7"/>
<line x1="460.3" y1="615.1" x2="466.3" y2="615.1" stroke="#050586" stroke-width="2.8"/>
<line x1="460.3" y1="716.1" x2="466.3" y2="716.1" stroke="#050586" stroke-width="2.8"/>
<circle cx="463.3" cy="665.9" r="7.9" fill="#050586"/>
<line x1="496.1" y1="623.1" x2="496.1" y2="651.9" stroke="#050586" stroke-width="2.7"/>
<line x1="493.1" y1="623.1" x2="499.1" y2="623.1" stroke="#050586" stroke-width="2.8"/>
<line x1="493.1" y1="651.9" x2="499.1" y2="651.9" stroke="#050586" stroke-width="2.8"/>
<circle cx="496.1" cy="637.3" r="7.9" fill="#050586"/>
<line x1="526.0" y1="588.5" x2="526.0" y2="671.3" stroke="#050586" stroke-width="2.7"/>
<line x1="523.0" y1="588.5" x2="529.0" y2="588.5" stroke="#050586" stroke-width="2.8"/>
<line x1="523.0" y1="671.3" x2="529.0" y2="671.3" stroke="#050586" stroke-width="2.8"/>
<circle cx="526.0" cy="629.9" r="7.9" fill="#050586"/>
<line x1="558.5" y1="651.2" x2="558.5" y2="722.4" stroke="#050586" stroke-width="2.7"/>
<line x1="555.5" y1="651.2" x2="561.5" y2="651.2" stroke="#050586" stroke-width="2.8"/>
<line x1="555.5" y1="722.4" x2="561.5" y2="722.4" stroke="#050586" stroke-width="2.8"/>
<circle cx="558.5" cy="687.0" r="7.9" fill="#050586"/>
<line x1="563.6" y1="559.8" x2="563.6" y2="923.4" stroke="#000" stroke-width="2.3"/>
<text x="99.5" y="932.9" font-family="Liberation Sans" font-size="28" font-style="normal" text-anchor="end" >10</text>
<text x="99.5" y="887.4" font-family="Liberation Sans" font-size="28" font-style="normal" text-anchor="end" >11</text>
<text x="99.5" y="842.0" font-family="Liberation Sans" font-size="28" font-style="normal" text-anchor="end" >12</text>
<text x="99.5" y="796.5" font-family="Liberation Sans" font-size="28" font-style="normal" text-anchor="end" >13</text>
<text x="99.5" y="751.1" font-family="Liberation Sans" font-size="28" font-style="normal" text-anchor="end" >14</text>
<text x="99.5" y="705.6" font-family="Liberation Sans" font-size="28" font-style="normal" text-anchor="end" >15</text>
<text x="99.5" y="660.2" font-family="Liberation Sans" font-size="28" font-style="normal" text-anchor="end" >16</text>
<text x="99.5" y="614.8" font-family="Liberation Sans" font-size="28" font-style="normal" text-anchor="end" >17</text>
<text x="99.5" y="569.3" font-family="Liberation Sans" font-size="28" font-style="normal" text-anchor="end" >18</text>
<text x="122.3" y="969.3" font-family="Liberation Sans" font-size="28" text-anchor="middle">10<tspan font-size="21" dy="-13.4">−3</tspan></text>
<text x="184.8" y="969.3" font-family="Liberation Sans" font-size="28" text-anchor="middle">10<tspan font-size="21" dy="-13.4">−2</tspan></text>
<text x="247.2" y="969.3" font-family="Liberation Sans" font-size="28" text-anchor="middle">10<tspan font-size="21" dy="-13.4">−1</tspan></text>
<text x="309.7" y="969.3" font-family="Liberation Sans" font-size="28" text-anchor="middle">10<tspan font-size="21" dy="-13.4">0</tspan></text>
<text x="372.1" y="969.3" font-family="Liberation Sans" font-size="28" text-anchor="middle">10<tspan font-size="21" dy="-13.4">1</tspan></text>
<text x="434.6" y="969.3" font-family="Liberation Sans" font-size="28" text-anchor="middle">10<tspan font-size="21" dy="-13.4">2</tspan></text>
<text x="497.0" y="969.3" font-family="Liberation Sans" font-size="28" text-anchor="middle">10<tspan font-size="21" dy="-13.4">3</tspan></text>
<text x="559.5" y="969.3" font-family="Liberation Sans" font-size="28" text-anchor="middle">10<tspan font-size="21" dy="-13.4">4</tspan></text>
<text x="116.3" y="535.2" font-family="Liberation Sans" font-size="34" font-style="normal" text-anchor="start" >(b)</text>
<text transform="translate(48.6,760) rotate(-90)" font-family="Liberation Serif" font-size="38" font-style="italic">R<tspan font-size="28" dy="9" dx="0">g</tspan></text>
<text x="296" y="999.5" font-family="Liberation Serif" font-size="36" font-style="italic">ε<tspan font-size="33" font-style="normal" dy="10.5" dx="3">bend</tspan></text>
</svg>
</body></html>
